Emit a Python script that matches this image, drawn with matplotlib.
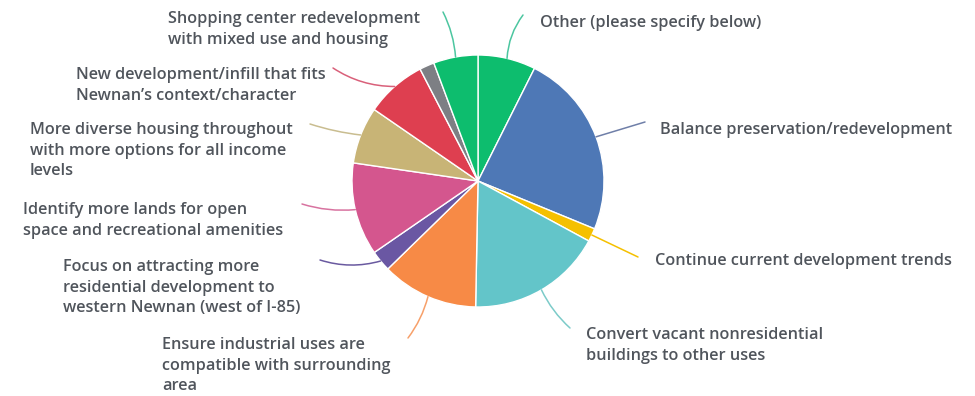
import matplotlib.pyplot as plt
import numpy as np

labels = [
    'Other (please specify below)',
    'Balance preservation/redevelopment',
    'Continue current development trends',
    'Convert vacant nonresidential\nbuildings to other uses',
    'Ensure industrial uses are\ncompatible with surrounding\narea',
    'Focus on attracting more\nresidential development to\nwestern Newnan (west of I-85)',
    'Identify more lands for open\nspace and recreational amenities',
    'More diverse housing throughout\nwith more options for all income\nlevels',
    'New development/infill that fits\nNewnan\u2019s context/character',
    '',
    'Shopping center redevelopment\nwith mixed use and housing',
]
shares = [7.4, 23.8, 1.7, 17.4, 12.4, 2.7, 11.9, 7.3, 7.8, 1.9, 5.7]
colors = ['#0dbd6e', '#4e78b6', '#f5c000', '#63c5c9', '#f78a46', '#6a57a3',
          '#d4568e', '#c8b476', '#de3f50', '#7d7f84', '#0dbd6e']
line_colors = ['#4cc6a0', '#6f7fa8', '#f5c000', '#7ccbc9', '#f7a06a', '#6a5aa0',
               '#d873a0', '#c9bd90', '#d9607a', None, '#4cc6a0']

W, H = 975, 396
# label block: (x of text left, y of first line, leader end x, leader end y) in pixels
label_pos = [
    (540, 21, 523, 15),
    (660, 128, 645, 122),
    (655, 259, 638, 257),
    (586, 333, 570, 328),
    (162, 343, 408, 338),
    (63, 265, 320, 260),
    (23, 208, 302, 204),
    (30, 128, 310, 124),
    (76, 73, 333, 68),
    None,
    (168, 17, 443, 12),
]
rads = [0.15, 0.0, 0.0, -0.1, 0.1, 0.15, 0.1, 0.05, 0.15, 0, -0.1]

cx, cy, r = 478, 181, 126

fig = plt.figure(figsize=(W / 100, H / 100), dpi=100)
ax = fig.add_axes([0, 0, 1, 1])
wedges, _ = ax.pie(shares, colors=colors, startangle=90, counterclock=False,
                   center=(cx, H - cy), radius=r,
                   wedgeprops=dict(edgecolor='white', linewidth=1.0))
ax.set_xlim(0, W)
ax.set_ylim(0, H)
ax.set_aspect('equal')
ax.axis('off')

for w, lab, pos, lc, rad in zip(wedges, labels, label_pos, line_colors, rads):
    if pos is None:
        continue
    mid = np.deg2rad((w.theta1 + w.theta2) / 2)
    x0 = cx + r * np.cos(mid)
    y0 = (H - cy) + r * np.sin(mid)
    tx, ty, ex, ey = pos
    ax.annotate('', xy=(x0, y0), xytext=(ex, H - ey),
                arrowprops=dict(arrowstyle='-', color=lc, lw=1.1,
                                connectionstyle='arc3,rad=%s' % rad,
                                shrinkA=0, shrinkB=0))
    ax.text(tx, H - ty + 6, lab, ha='left', va='top', fontsize=11.7,
            family='Open Sans', weight='semibold', color='#50555c',
            linespacing=1.38)

fig.savefig('out.png', dpi=100)
